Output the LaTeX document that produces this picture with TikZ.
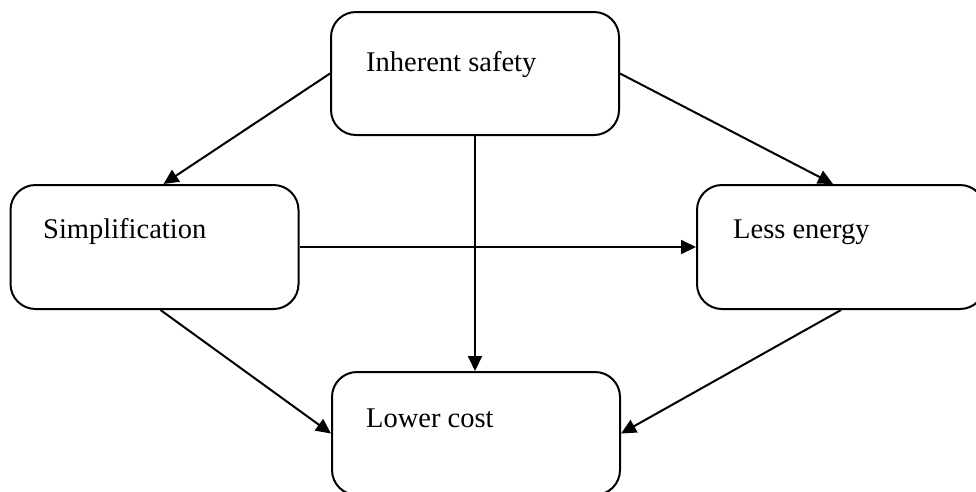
\documentclass[tikz,border=0pt]{standalone}
\usepackage{fontspec}
\setmainfont{Liberation Serif}
\usetikzlibrary{arrows.meta}
\begin{document}
\begin{tikzpicture}[x=1pt,y=1pt,
  box/.style={draw=black, line width=2pt, rounded corners=25pt, minimum width=288pt, inner sep=0pt, fill=white},
  lbl/.style={anchor=base west, inner sep=0pt, font=\fontsize{28.5}{34}\selectfont},
  conn/.style={line width=2pt, -{Triangle[length=15pt,width=14pt]}}]
\clip (0,0) rectangle (976,-491);
\useasboundingbox (0,0) rectangle (976,-491);
\node[box, minimum height=123pt] (safe) at (475,-73.5) {};
\node[box, minimum height=124pt] (simp) at (154.5,-247) {};
\node[box, minimum height=124pt] (less) at (841,-247) {};
\node[box, minimum height=123pt] (cost) at (476,-433.5) {};
\node[lbl] (tsafe) at (366,-71) {Inherent safety};
\node[lbl] (tsimp) at (43,-238) {Simplification};
\node[lbl] (tless) at (733,-238) {Less energy};
\node[lbl] (tcost) at (366,-427) {Lower cost};
\draw[conn] (safe.west) -- ([xshift=9pt]simp.north);
\draw[conn] (safe.east) -- ([xshift=-8pt]less.north);
\draw[conn] (safe.south) -- (safe.south |- cost.north);
\draw[conn] (simp.east) -- (less.west);
\draw[conn] ([xshift=6pt]simp.south) -- (cost.west);
\draw[conn] (less.south) -- (cost.east);
\end{tikzpicture}
\end{document}
